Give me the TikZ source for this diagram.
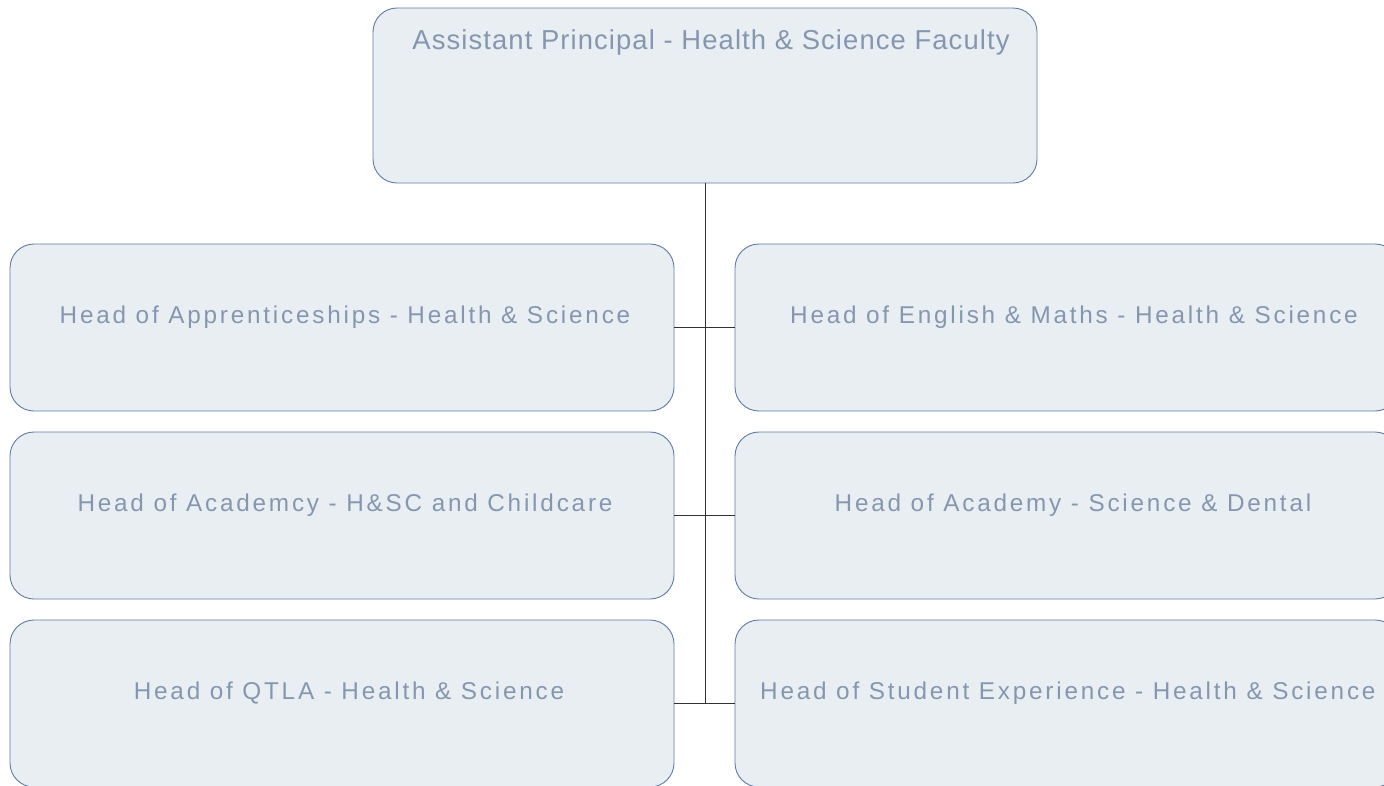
\documentclass[tikz,border=0pt]{standalone}
\usepackage{fontspec}
\setmainfont{Liberation Sans}
\newfontfamily\spfont[LetterSpace=11.5]{Liberation Sans}
\newfontfamily\hdfont[LetterSpace=4]{Liberation Sans}
\definecolor{boxfill}{HTML}{E9EEF2}
\definecolor{boxline}{HTML}{5F7BA6}
\definecolor{txtcol}{HTML}{8597B0}
\definecolor{linecol}{HTML}{333333}
\tikzset{
  box/.style={draw=boxline, fill=boxfill, line width=0.9pt, rounded corners=24pt, rectangle, inner sep=0pt},
  sidebox/.style={box, minimum width=664pt, minimum height=167pt},
  headtxt/.style={text=txtcol, inner sep=0pt, font=\hdfont\fontsize{27.4}{30}\selectfont},
  subtxt/.style={text=txtcol, inner sep=0pt, font=\spfont\fontsize{24.3}{28}\selectfont},
  conn/.style={draw=linecol, line width=0.9pt}
}
\begin{document}
\begin{tikzpicture}[x=1pt,y=-1pt]
\useasboundingbox (0,0) rectangle (1384,785);
\node[box, minimum width=664pt, minimum height=175pt] (top) at (705,95.5) {};
\node[headtxt] (toptxt) at (711,42) {Assistant Principal - Health \& Science Faculty};
\node[sidebox] (a1) at (342,327.5) {};
\node[sidebox] (a2) at (342,515.5) {};
\node[sidebox] (a3) at (342,703.5) {};
\node[sidebox] (b1) at (1067,327.5) {};
\node[sidebox] (b2) at (1067,515.5) {};
\node[sidebox] (b3) at (1067,703.5) {};
\node[subtxt] (ta1) at (345,317) {Head of Apprenticeships - Health \& Science};
\node[subtxt] (ta2) at (345,505) {Head of Academcy - H\&SC and Childcare};
\node[subtxt] (ta3) at (349,693) {Head of QTLA - Health \& Science};
\node[subtxt] (tb1) at (1074,317) {Head of English \& Maths - Health \& Science};
\node[subtxt] (tb2) at (1073,505) {Head of Academy - Science \& Dental};
\node[subtxt, anchor=west] (tb3) at (760,693) {Head of Student Experience - Health \& Science};
\coordinate (vend) at (top.south |- a3.east);
\draw[conn] (top.south) -- (vend);
\draw[conn] (a1.east) -- (b1.west);
\draw[conn] (a2.east) -- (b2.west);
\draw[conn] (a3.east) -- (b3.west);
\end{tikzpicture}
\end{document}
